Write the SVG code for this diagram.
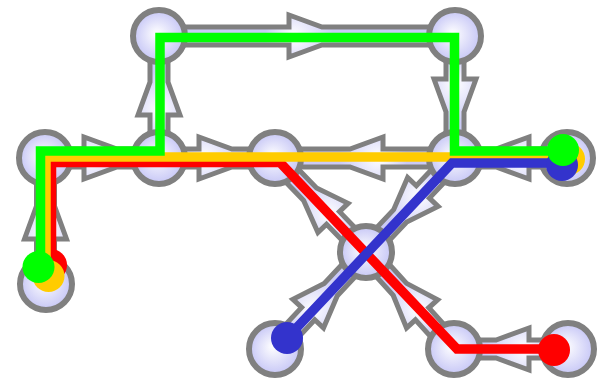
<svg xmlns="http://www.w3.org/2000/svg" width="597" height="382" viewBox="0 0 597 382">
<defs>
<radialGradient id="ng" cx="0.5" cy="0.5" r="0.5" fx="0.45" fy="0.45">
<stop offset="0" stop-color="#ffffff"/>
<stop offset="1" stop-color="#c6c6f6"/>
</radialGradient>
<radialGradient id="eg" gradientUnits="userSpaceOnUse" cx="-8" cy="0" r="34" fx="-14" fy="0">
<stop offset="0" stop-color="#ffffff"/>
<stop offset="1" stop-color="#cacaf6"/>
</radialGradient>
</defs>
<style>
.node{fill:url(#ng);stroke:#808080;stroke-width:6}
.edge{fill:url(#eg);stroke:#808080;stroke-width:5;stroke-linejoin:miter}
.route{fill:none;stroke-width:9.5;stroke-linejoin:miter;stroke-linecap:butt}
</style>
<g id="connectors">
<polygon class="edge" transform="translate(307,36)" points="-148,-9 -18,-9 -18,-21 15,-9 148,-9 148,9 15,9 -18,21 -18,9 -148,9"/>
<polygon class="edge" transform="translate(159,97) rotate(-90)" points="-61,-9 -18,-9 -18,-21 15,-9 61,-9 61,9 15,9 -18,21 -18,9 -61,9"/>
<polygon class="edge" transform="translate(102,158)" points="-57,-9 -18,-9 -18,-21 15,-9 57,-9 57,9 15,9 -18,21 -18,9 -57,9"/>
<polygon class="edge" transform="translate(217,158)" points="-58,-9 -18,-9 -18,-21 15,-9 58,-9 58,9 15,9 -18,21 -18,9 -58,9"/>
<polygon class="edge" transform="translate(365,158) rotate(180)" points="-90,-9 -18,-9 -18,-21 15,-9 90,-9 90,9 15,9 -18,21 -18,9 -90,9"/>
<polygon class="edge" transform="translate(455,97) rotate(90)" points="-61,-9 -18,-9 -18,-21 15,-9 61,-9 61,9 15,9 -18,21 -18,9 -61,9"/>
<polygon class="edge" transform="translate(511,158) rotate(180)" points="-56,-9 -18,-9 -18,-21 15,-9 56,-9 56,9 15,9 -18,21 -18,9 -56,9"/>
<polygon class="edge" transform="translate(45.5,221) rotate(-90)" points="-63,-9 -18,-9 -18,-21 15,-9 63,-9 63,9 15,9 -18,21 -18,9 -63,9"/>
<polygon class="edge" transform="translate(320.5,205) rotate(-134.07)" points="-65.4,-9 -18,-9 -18,-21 15,-9 65.4,-9 65.4,9 15,9 -18,21 -18,9 -65.4,9"/>
<polygon class="edge" transform="translate(410.5,205) rotate(133.44)" points="-64.7,-9 -18,-9 -18,-21 15,-9 64.7,-9 64.7,9 15,9 -18,21 -18,9 -64.7,9"/>
<polygon class="edge" transform="translate(320.5,300.5) rotate(-46.83)" points="-66.5,-9 -18,-9 -18,-21 15,-9 66.5,-9 66.5,9 15,9 -18,21 -18,9 -66.5,9"/>
<polygon class="edge" transform="translate(410,300.5) rotate(-132.22)" points="-65.5,-9 -18,-9 -18,-21 15,-9 65.5,-9 65.5,9 15,9 -18,21 -18,9 -65.5,9"/>
<polygon class="edge" transform="translate(511,349) rotate(180)" points="-57,-9 -18,-9 -18,-21 15,-9 57,-9 57,9 15,9 -18,21 -18,9 -57,9"/>
</g>
<g id="nA"><circle class="node" cx="159" cy="36" r="26"/></g>
<g id="nB"><circle class="node" cx="455" cy="36" r="26"/></g>
<g id="nC"><circle class="node" cx="45" cy="158" r="26"/></g>
<g id="nD"><circle class="node" cx="159" cy="158" r="26"/></g>
<g id="nE"><circle class="node" cx="275" cy="158" r="26"/></g>
<g id="nF"><circle class="node" cx="455" cy="158" r="26"/></g>
<g id="nG"><circle class="node" cx="567" cy="158" r="26"/></g>
<g id="nH"><circle class="node" cx="46" cy="284" r="26"/></g>
<g id="nI"><circle class="node" cx="366" cy="252" r="26"/></g>
<g id="nJ"><circle class="node" cx="275" cy="349" r="26"/></g>
<g id="nK"><circle class="node" cx="454" cy="349" r="26"/></g>
<g id="nL"><circle class="node" cx="568" cy="349" r="26"/></g>
<g id="routes">
<polyline class="route" stroke="#ff0000" points="51.5,265 51.5,162.5 280,162.5 457,349 554,349"/>
<circle cx="51" cy="265" r="16" fill="#ff0000"/>
<circle cx="554" cy="350" r="16" fill="#ff0000"/>
<polyline class="route" stroke="#ffcc00" points="46,276 46,157 569,157"/>
<circle cx="48.5" cy="276" r="16" fill="#ffcc00"/>
<circle cx="569" cy="159" r="16" fill="#ffcc00"/>
<polyline class="route" stroke="#3333cc" points="287,338 452,163 562,163"/>
<circle cx="287" cy="338" r="16" fill="#3333cc"/>
<circle cx="562" cy="165" r="16" fill="#3333cc"/>
<polyline class="route" stroke="#00ff00" points="40.5,267 40.5,151 160,151 160,37.5 454.5,37.5 454.5,151 563,151"/>
<circle cx="38.5" cy="267" r="16" fill="#00ff00"/>
<circle cx="563" cy="150" r="16" fill="#00ff00"/>
</g>
</svg>
